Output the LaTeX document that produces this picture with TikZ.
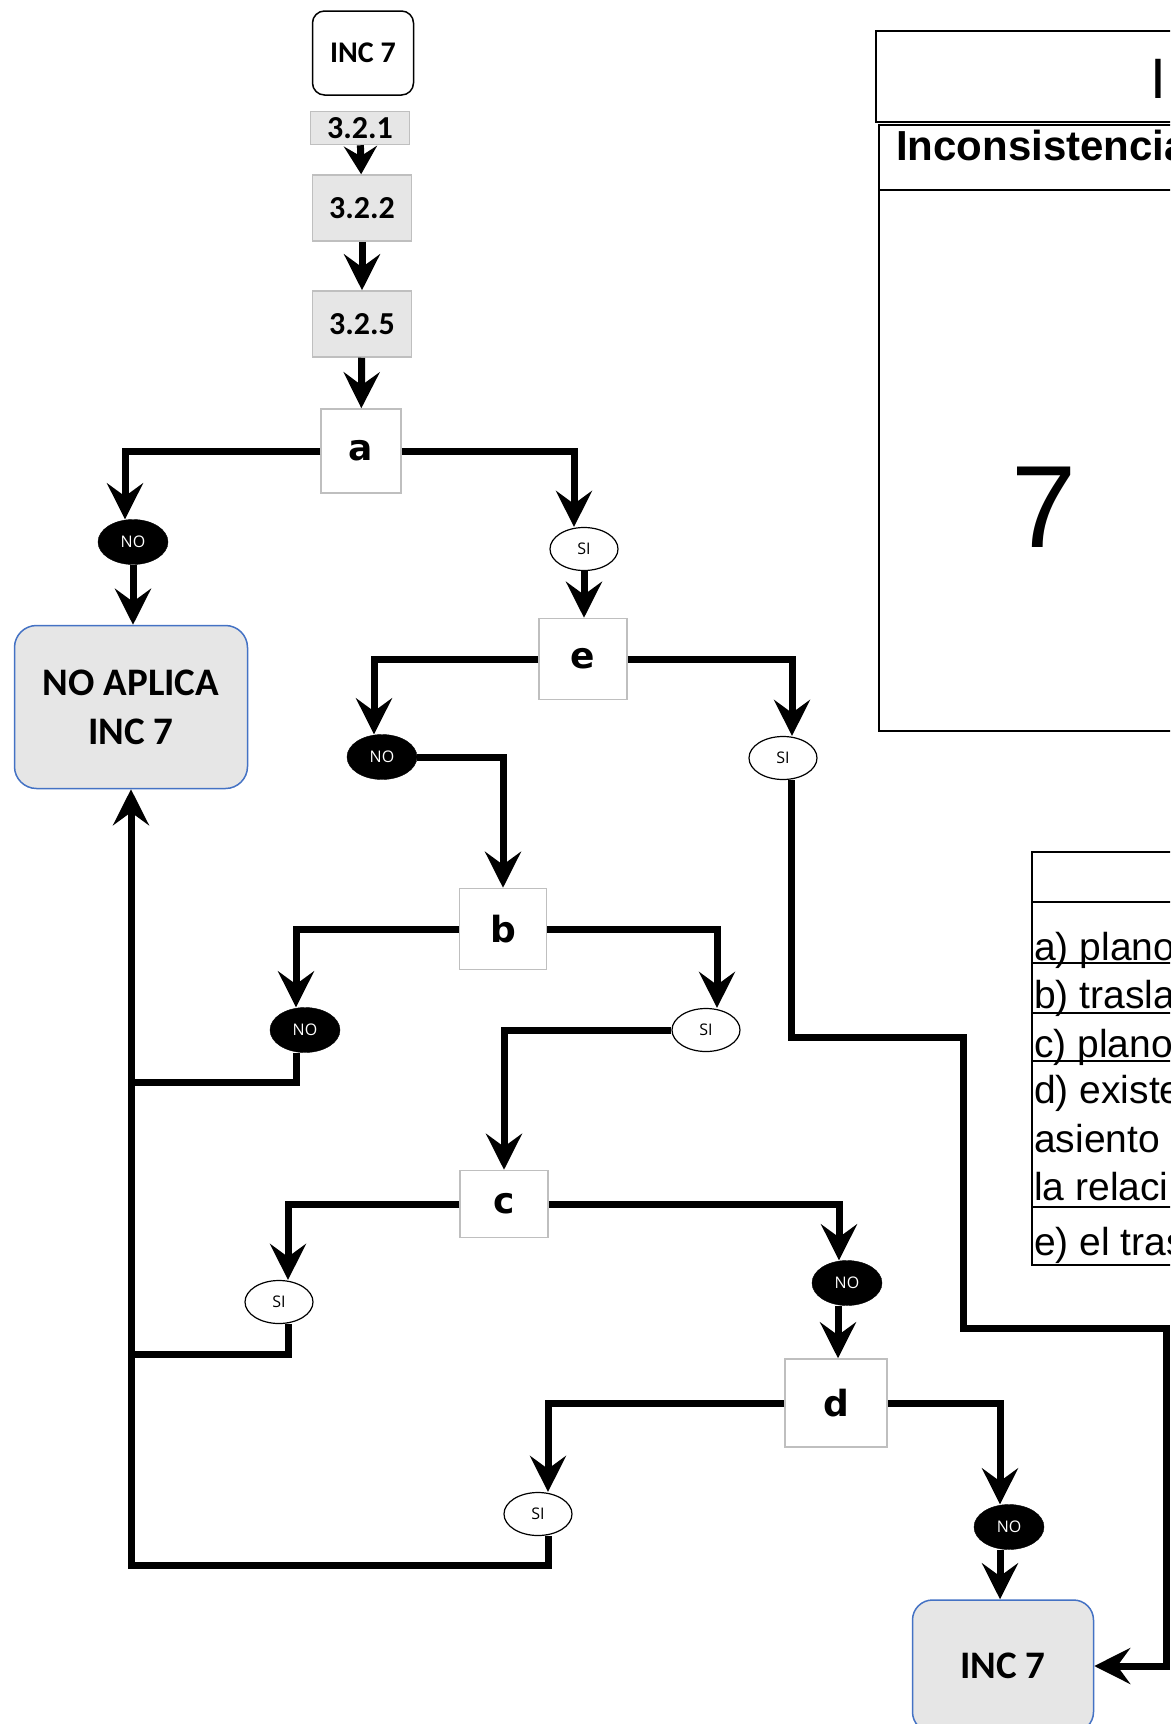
\documentclass[tikz,border=0pt]{standalone}
\usepackage{fontspec}
\setmainfont{Carlito}
\newfontfamily\letterfont{DejaVu Sans}
\newfontfamily\tagfont{Open Sans}
\newfontfamily\tabfont{Liberation Sans}
\usetikzlibrary{arrows.meta,shapes.geometric,positioning}
\definecolor{boxgrey}{RGB}{230,230,230}
\definecolor{edgegrey}{RGB}{191,191,191}
\definecolor{edgeblue}{RGB}{68,114,196}

\begin{document}
\begin{tikzpicture}[x=1pt, y=-1pt,
    ln/.style={line width=7pt, line join=miter},
    arr/.style={ln, -{Stealth[length=36pt, width=36pt, inset=13pt]}},
    sarr/.style={ln, -{Stealth[length=28pt, width=33pt, inset=10pt]}},
    startbox/.style={draw=black, line width=1.5pt, rounded corners=12pt, fill=white,
                     minimum width=101pt, minimum height=84pt, font=\bfseries\fontsize{30}{34}\selectfont},
    stepbox/.style={draw=edgegrey, line width=1.5pt, fill=boxgrey, inner sep=0pt,
                    minimum width=99pt, minimum height=66pt, font=\bfseries\fontsize{32}{36}\selectfont},
    qbox/.style={draw=edgegrey, line width=1.5pt, fill=white, inner sep=0pt,
                 font=\letterfont\bfseries\fontsize{36}{40}\selectfont},
    endbox/.style={draw=edgeblue, line width=1.5pt, fill=boxgrey, rounded corners=22pt,
                   align=center, font=\bfseries\fontsize{39}{49}\selectfont},
    notag/.style={ellipse, draw=black, fill=black, text=white, inner sep=0pt,
                  minimum width=70pt, minimum height=45pt, font=\tagfont\fontsize{16}{18}\selectfont},
    sitag/.style={ellipse, draw=black, line width=1.2pt, fill=white, inner sep=0pt,
                  minimum width=68pt, minimum height=43pt, font=\tagfont\fontsize{16}{18}\selectfont},
    tabline/.style={draw=black, line width=2pt},
    tabtext/.style={anchor=base west, inner sep=0pt, font=\tabfont\fontsize{39}{50}\selectfont}]
\useasboundingbox (0,0) rectangle (1170,1724);
\clip (0,0) rectangle (1170,1724);

% flow chart
\node[startbox] (inctop) at (363,53) {INC 7};
\node[stepbox, minimum height=33pt] (s321) at (360,128) {3.2.1};
\node[stepbox] (s322) at (362,208) {3.2.2};
\node[stepbox] (s325) at (362,324) {3.2.5};
\node[qbox, minimum width=80pt, minimum height=84pt] (qa) at (361,451) {a};
\node[notag] (no1) at (133,542) {NO};
\node[endbox, minimum width=233pt, minimum height=163pt] (noapl) at (131,707) {NO APLICA\\INC 7};
\node[sitag] (si1) at (584,549) {SI};
\node[qbox, minimum width=88pt, minimum height=81pt] (qe) at (583,659) {e};
\node[notag] (no2) at (382,757) {NO};
\node[sitag] (si2) at (783,758) {SI};
\node[qbox, minimum width=87pt, minimum height=81pt] (qb) at (503,929) {b};
\node[notag] (no3) at (305,1030) {NO};
\node[sitag] (si3) at (706,1030) {SI};
\node[qbox, minimum width=88pt, minimum height=67pt] (qc) at (504,1204) {c};
\node[sitag] (si4) at (279,1302) {SI};
\node[notag] (no4) at (847,1283) {NO};
\node[qbox, minimum width=102pt, minimum height=88pt] (qd) at (836,1403) {d};
\node[sitag] (si5) at (538,1514) {SI};
\node[notag] (no5) at (1009,1527) {NO};
\node[endbox, rounded corners=20pt, minimum width=181pt, minimum height=132pt] (incend) at (1003,1666) {INC 7};

\draw[sarr] (s321) -- (s322);
\draw[arr] (s322) -- (s325);
\draw[arr] (s325) -- (qa);
\draw[arr] (qa.west) -| ([xshift=-8pt]no1.north);
\draw[arr] (no1.south) -- (no1.south |- noapl.north);
\draw[arr] (qa.east) -| ([xshift=-10pt]si1.north);
\draw[arr] (si1.south) -- (si1.south |- qe.north);
\draw[arr] (qe.west) -| ([xshift=-8pt]no2.north);
\draw[arr] (qe.east) -| ([xshift=9pt]si2.north);
\draw[arr] (no2.east) -| (qb.north);
\draw[arr] (qb.west) -| ([xshift=-9pt]no3.north);
\draw[arr] (qb.east) -| ([xshift=11pt]si3.north);
\draw[arr] (si3.west) -| (qc.north);
\draw[arr] (qc.west) -| ([xshift=9pt]si4.north);
\draw[arr] (qc.east) -| ([xshift=-8pt]no4.north);
\draw[arr] ([xshift=-9pt]no4.south) -- ([xshift=-9pt]no4.south |- qd.north);
\draw[arr] (qd.west) -| ([xshift=10pt]si5.north);
\draw[arr] (qd.east) -| ([xshift=-9pt]no5.north);
\draw[arr] ([xshift=-9pt]no5.south) -- ([xshift=-9pt]no5.south |- incend.north);

% back to NO APLICA
\coordinate (j1) at (131,1082);
\coordinate (j2) at (131,1354);
\coordinate (j3) at (131,1565);
\draw[ln] ([xshift=-9pt]no3.south) |- (j1);
\draw[ln] ([xshift=9pt]si4.south) |- (j2);
\draw[arr] ([xshift=10pt]si5.south) |- (j3) -- (j3 |- noapl.south);

% e = SI to INC 7
\coordinate (r1) at (963,1037);
\coordinate (r2) at (1166,1328);
\draw[arr] ([xshift=8pt]si2.south) |- (r1) |- (r2) |- (incend.east);

% tables
\draw[tabline] (876,31) rectangle (1180,122);
\draw[tabline] (879,125) rectangle (1180,731);
\draw[tabline] (879,190) -- (1180,190);
\node[anchor=base west, inner sep=0pt, font=\tabfont\fontsize{57}{60}\selectfont] (ttl) at (1150,98) {I};
\node[anchor=base west, inner sep=0pt, font=\tabfont\bfseries\fontsize{42}{46}\selectfont] (hdr) at (896,160) {Inconsistencia};
\node[anchor=base, inner sep=0pt, font=\tabfont\fontsize{117}{120}\selectfont] (num) at (1044,547) {7};

\draw[tabline] (1032,852) rectangle (1180,1265);
\foreach \y in {902,963,1013,1061,1207} {
    \draw[tabline] (1032,\y) -- (1180,\y);
}
\node[tabtext] (ra) at (1034,960) {a) plano};
\node[tabtext] (rb) at (1034,1008) {b) trasla};
\node[tabtext] (rc) at (1034,1057) {c) plano};
\node[tabtext] (rd1) at (1034,1103) {d) existe};
\node[tabtext] (rd2) at (1034,1152) {asiento};
\node[tabtext] (rd3) at (1034,1200) {la relaci};
\node[tabtext] (re) at (1034,1255) {e) el tras};
\end{tikzpicture}
\end{document}
